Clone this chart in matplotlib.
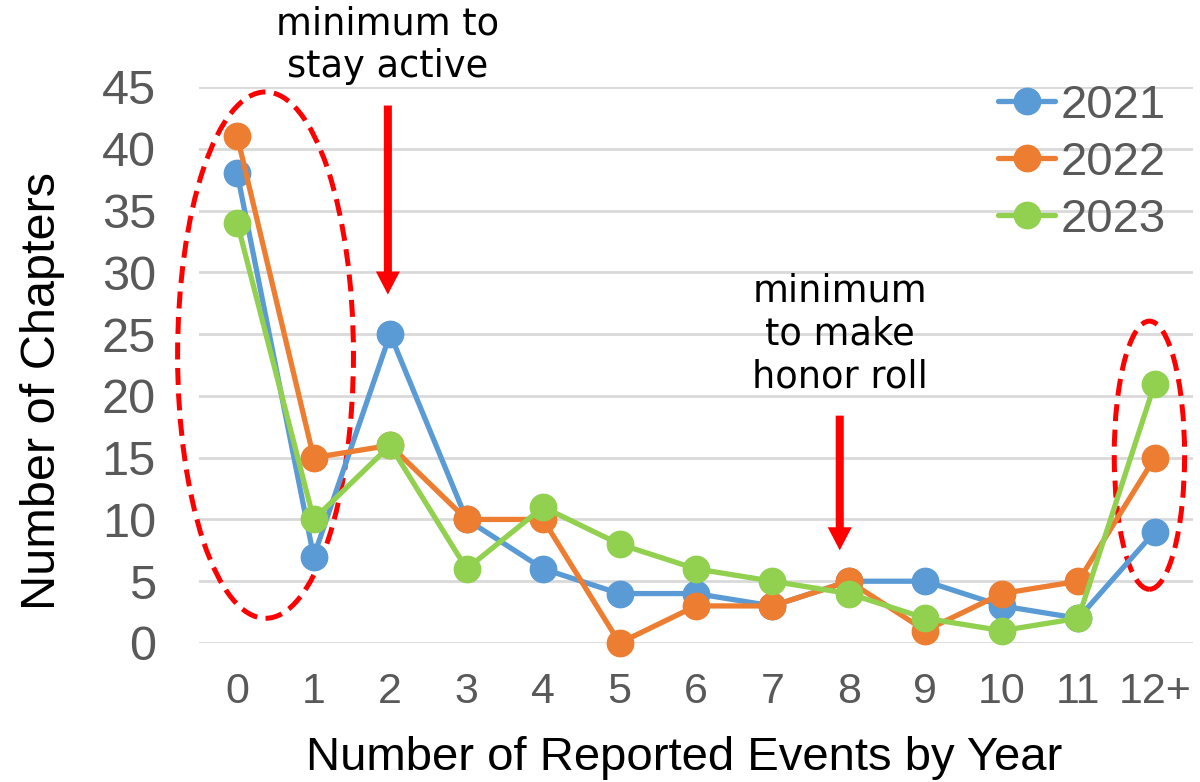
import matplotlib
matplotlib.use("Agg")
import matplotlib.pyplot as plt
from matplotlib.patches import Ellipse

categories = ["0", "1", "2", "3", "4", "5", "6", "7", "8", "9", "10", "11", "12+"]
series_2021 = [38, 7, 25, 10, 6, 4, 4, 3, 5, 5, 3, 2, 9]
series_2022 = [41, 15, 16, 10, 10, 0, 3, 3, 5, 1, 4, 5, 15]
series_2023 = [34, 10, 16, 6, 11, 8, 6, 5, 4, 2, 1, 2, 21]
series_labels = ["2021", "2022", "2023"]
colors = ["#5B9BD5", "#ED7D31", "#92D050"]

W, H = 1200, 782
fig = plt.figure(figsize=(W / 100, H / 100), dpi=100)
ax = fig.add_axes([199 / W, 1 - 643 / H, 994 / W, 556 / H])

x = list(range(len(categories)))
for vals, lab, c in zip([series_2021, series_2022, series_2023], series_labels, colors):
    ax.plot(x, vals, color=c, lw=3.8, marker="o", markersize=19, label=lab,
            clip_on=False, solid_capstyle="round", solid_joinstyle="round")

ax.set_xlim(-0.5, 12.5)
ax.set_ylim(0, 45)
ax.set_yticks(range(0, 46, 5))
ax.set_xticks(x)
ax.set_xticklabels(categories)
for s in ax.spines.values():
    s.set_visible(False)
ax.grid(axis="y", color="#D9D9D9", lw=2)
ax.grid(axis="x", visible=False)
ax.set_axisbelow(True)
ax.tick_params(length=0, labelcolor="#595959")
ax.tick_params(axis="x", labelsize=31, pad=21)
ax.tick_params(axis="y", labelsize=35, pad=31)
for t in ax.get_xticklabels() + ax.get_yticklabels():
    t.set_fontfamily("Liberation Sans")

ax.set_xlabel("Number of Reported Events by Year", fontsize=34,
              fontfamily="Liberation Sans")
ax.set_ylabel("Number of Chapters", fontsize=35,
              fontfamily="Liberation Sans")
ax.xaxis.set_label_coords(0.488, -0.168)
ax.yaxis.set_label_coords(-0.135, 0.453)

leg = fig.legend(*ax.get_legend_handles_labels(), loc="upper left",
                 bbox_to_anchor=(998 / W, 1 - 84 / H), frameon=False,
                 handlelength=1.21, handletextpad=0.12, borderpad=0,
                 borderaxespad=0, labelspacing=0.27,
                 prop={"family": "Liberation Sans", "size": 34})
for t in leg.get_texts():
    t.set_color("#595959")

# Ellipses
dash = (0, (3.4, 1.7))
ax.add_patch(Ellipse((0.37, 23.3), 2.3, 42.6, fill=False, ec="red", lw=3.6,
                     ls=dash, clip_on=False))
ax.add_patch(Ellipse((11.93, 15.2), 0.92, 21.7, fill=False, ec="red", lw=3.6,
                     ls=dash, clip_on=False))

# Arrows
arrow_kw = dict(width=5.8, headwidth=17.3, headlength=16.6, facecolor="red",
                edgecolor="none", shrink=0)
ax.annotate("", xy=(1.97, 28.2), xytext=(1.97, 43.5), arrowprops=arrow_kw,
            annotation_clip=False)
ax.annotate("", xy=(7.88, 7.5), xytext=(7.88, 18.4), arrowprops=arrow_kw)

ax.text(1.97, 45.8, "minimum to\nstay active", ha="center", va="baseline",
        fontsize=26.5, fontfamily="DejaVu Sans", linespacing=1.2, clip_on=False)
ax.text(7.88, 20.7, "minimum\nto make\nhonor roll", ha="center", va="baseline",
        fontsize=26.5, fontfamily="DejaVu Sans", linespacing=1.2)

fig.savefig("out.png", dpi=100, facecolor="white")
